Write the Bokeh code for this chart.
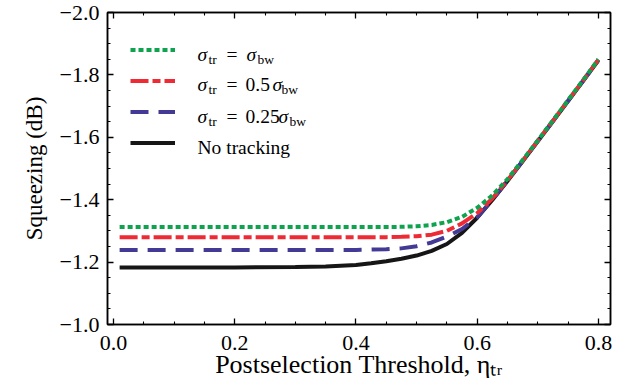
from bokeh.plotting import figure
from bokeh.models import (Range1d, FixedTicker, LinearAxis, CustomJSTickFormatter,
                          Legend, LegendItem, Label)
from bokeh.embed import file_html
from bokeh.resources import INLINE

# ---------------- data ----------------
threshold = [0.01, 0.1, 0.2, 0.3, 0.35, 0.4, 0.425, 0.45, 0.475, 0.5, 0.525,
             0.55, 0.575, 0.6, 0.625, 0.65, 0.675, 0.7, 0.725, 0.75, 0.775, 0.8]
no_tracking = [-1.183, -1.183, -1.183, -1.184, -1.186, -1.191, -1.196, -1.203,
               -1.211, -1.221, -1.236, -1.258, -1.294, -1.342, -1.399, -1.460,
               -1.523, -1.587, -1.651, -1.716, -1.781, -1.847]
sigma_quarter = [-1.239, -1.239, -1.239, -1.239, -1.239, -1.239, -1.240, -1.241,
                 -1.244, -1.251, -1.263, -1.282, -1.306, -1.344, -1.400, -1.461,
                 -1.524, -1.588, -1.652, -1.717, -1.782, -1.848]
sigma_half = [-1.280, -1.280, -1.280, -1.280, -1.280, -1.280, -1.280, -1.280,
              -1.281, -1.283, -1.288, -1.300, -1.324, -1.357, -1.404, -1.462,
              -1.525, -1.589, -1.653, -1.718, -1.783, -1.849]
sigma_full = [-1.3125, -1.3125, -1.3125, -1.3125, -1.3125, -1.3125, -1.3125, -1.3125,
              -1.313, -1.315, -1.319, -1.328, -1.345, -1.374, -1.414, -1.466,
              -1.527, -1.590, -1.654, -1.719, -1.784, -1.850]

x_ticks = [0.0, 0.2, 0.4, 0.6, 0.8]
x_minor = [0.05, 0.1, 0.15, 0.25, 0.3, 0.35, 0.45, 0.5, 0.55, 0.65, 0.7, 0.75]
y_ticks = [-2.0, -1.8, -1.6, -1.4, -1.2, -1.0]
y_minor = [-1.95, -1.9, -1.85, -1.75, -1.7, -1.65, -1.55, -1.5, -1.45,
           -1.35, -1.3, -1.25, -1.15, -1.1, -1.05]

# ---------------- styling ----------------
FONT = "Liberation Serif"
GREEN = "#10a34f"
RED = "#ee2b35"
BLUE = "#433a96"
BLACK = "#161616"

p = figure(width=638, height=385,
           x_range=Range1d(-0.01, 0.82), y_range=Range1d(-1.0, -2.0),
           output_backend="svg", toolbar_location=None,
           min_border_left=107, min_border_right=28,
           min_border_top=12, min_border_bottom=61)
p.xgrid.visible = False
p.ygrid.visible = False
p.outline_line_color = "black"
p.outline_line_width = 1.5
p.background_fill_color = "white"
p.border_fill_color = "white"

num_fmt = CustomJSTickFormatter(
    code="return (tick < -1e-9 ? '\\u2212' : '') + Math.abs(tick).toFixed(1);")
blank_fmt = CustomJSTickFormatter(code="return '';")


def style_axis(ax, ticks, minor, labels=True):
    ax.ticker = FixedTicker(ticks=ticks, minor_ticks=minor)
    ax.axis_line_color = "black"
    ax.axis_line_width = 1.5
    ax.major_tick_in = 6
    ax.major_tick_out = 0
    ax.minor_tick_in = 3
    ax.minor_tick_out = 0
    ax.major_tick_line_color = "black"
    ax.minor_tick_line_color = "black"
    ax.major_tick_line_width = 1.3
    ax.minor_tick_line_width = 1.1
    if labels:
        ax.formatter = num_fmt
        ax.major_label_text_font = FONT
        ax.major_label_text_font_size = "22px"
        ax.major_label_text_color = "black"
    else:
        ax.formatter = blank_fmt
        ax.major_label_text_font_size = "0px"
        ax.major_label_standoff = 0


xa = p.xaxis[0]
ya = p.yaxis[0]
style_axis(xa, x_ticks, x_minor)
style_axis(ya, y_ticks, y_minor)
xa.major_label_standoff = 11
ya.major_label_standoff = 8

ya.axis_label = "Squeezing (dB)"
ya.axis_label_text_font = FONT
ya.axis_label_text_font_size = "23px"
ya.axis_label_text_font_style = "normal"
ya.axis_label_text_color = "black"
ya.axis_label_standoff = 10

xa.axis_label = "Postselection Threshold, \u03b7\u209c\u1d63"
xa.axis_label_text_font = FONT
xa.axis_label_text_font_size = "26px"
xa.axis_label_text_font_style = "normal"
xa.axis_label_text_color = "black"
xa.axis_label_standoff = -3

top_ax = LinearAxis()
style_axis(top_ax, x_ticks, x_minor, labels=False)
p.add_layout(top_ax, "above")
right_ax = LinearAxis()
style_axis(right_ax, y_ticks, y_minor, labels=False)
p.add_layout(right_ax, "right")

# ---------------- curves ----------------
r_black = p.line(threshold, no_tracking, line_color=BLACK, line_width=4)
r_blue = p.line(threshold, sigma_quarter, line_color=BLUE, line_width=4,
                line_dash="18 10")
r_red = p.line(threshold, sigma_half, line_color=RED, line_width=4,
               line_dash="18 4 8 4")
r_green = p.line(threshold, sigma_full, line_color=GREEN, line_width=4,
                 line_dash="5 3")

legend = Legend(items=[LegendItem(label=" ", renderers=[r_green]),
                       LegendItem(label=" ", renderers=[r_red]),
                       LegendItem(label=" ", renderers=[r_blue]),
                       LegendItem(label=" ", renderers=[r_black])],
                location=(23, 166), padding=0, margin=0, spacing=0,
                glyph_width=45, glyph_height=31, label_height=31,
                label_width=1, label_standoff=0, label_text_font_size="1px",
                background_fill_alpha=0, border_line_alpha=0)
p.add_layout(legend)

# ---------------- legend texts (positions in page pixels) ----------------
def dx(px):
    return -0.01 + (px - 107) * 0.83 / 503


def dy(py):
    return -1.0 - (324 - py) / 312


def put(text, px, py, size, italic=False, align="left"):
    p.add_layout(Label(x=dx(px), y=dy(py), text=text, text_font=FONT,
                       text_font_size=size,
                       text_font_style="italic" if italic else "normal",
                       text_align=align, text_baseline="alphabetic",
                       text_color="black"))


MAIN = "19.5px"
SUB = "13.5px"
legend_rows = [
    (53.5, [("\u03c3", 197, MAIN, True, 0), ("tr", 208, SUB, False, 5),
            ("=", 226, MAIN, False, 0), ("\u03c3", 246, MAIN, True, 0),
            ("bw", 257, SUB, False, 5)]),
    (84.0, [("\u03c3", 197, MAIN, True, 0), ("tr", 208, SUB, False, 5),
            ("=", 226, MAIN, False, 0), ("0.5", 245, MAIN, False, 0),
            ("\u03c3", 272, MAIN, True, 0), ("bw", 281, SUB, False, 5)]),
    (116.0, [("\u03c3", 197, MAIN, True, 0), ("tr", 208, SUB, False, 5),
             ("=", 226, MAIN, False, 0), ("0.25", 245, MAIN, False, 0),
             ("\u03c3", 278, MAIN, True, 0), ("bw", 289, SUB, False, 5)]),
    (146.5, [("No tracking", 197, MAIN, False, 0)]),
]
for base, pieces in legend_rows:
    for text, px, size, it, drop in pieces:
        put(text, px, base + drop, size, italic=it)

with open("out.html", "w", encoding="utf-8") as f:
    f.write(file_html(p, INLINE))
